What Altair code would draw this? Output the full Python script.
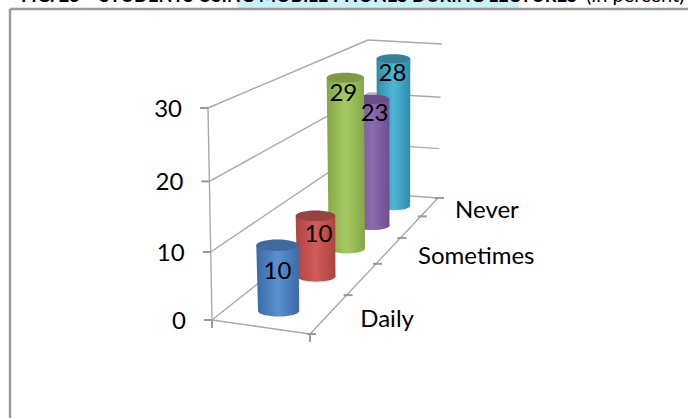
import altair as alt
import pandas as pd

# Chart content
title_bold = "FIG. 25 – STUDENTS USING MOBILE PHONES DURING LECTURES"
title_unit = "(in percent)"
values = [10, 10, 29, 23, 28]
depth_labels = ["Daily", "", "Sometimes", "", "Never"]
value_ticks = [0, 10, 20, 30]

# Per-cylinder palettes: edge shade, centre shade, cap
edge_colors = ["#3a6aa8", "#ad4340", "#84a648", "#6c508e", "#2f8ea9"]
mid_colors = ["#5c90d0", "#d25c5a", "#a6ca62", "#8d6cb2", "#4db6d6"]
cap_colors = ["#3f6a9e", "#964240", "#7e9a44", "#6b4f88", "#36809a"]
label_dx = [0, 3, -2, 3, -1]

W, H = 688, 418
FONT = "Lato"
AXIS_SIZE = 24
GRID = "#a9a9a9"
TICK = "#9a9a9a"

# Corners of the 3-D box on screen: floor and the plane at the top of the value axis
F_FL, F_FR, F_BL, F_BR = (212, 320), (310, 334), (372, 193), (438, 198)
T_FL, T_FR, T_BL, T_BR = (208, 108), (306, 122), (368, 40), (442, 44)
V_MAX = 30


def depth_warp(t, c=0.6):
    return t * (1 + c) / (1 + c * t)


def value_warp(v, k=0.00185):
    return (v / (1 - k * v)) * (1 - V_MAX * k) / V_MAX


def lerp(a, b, s):
    return a + (b - a) * s


def project(u, t, v):
    """Map (across, depth 0-1, value) to screen coordinates."""
    f, g = depth_warp(t), value_warp(v)
    out = []
    for i in (0, 1):
        floor = lerp(lerp(F_FL[i], F_FR[i], u), lerp(F_BL[i], F_BR[i], u), f)
        top = lerp(lerp(T_FL[i], T_FR[i], u), lerp(T_BL[i], T_BR[i], u), f)
        out.append(lerp(floor, top, g))
    return out


def segments(pairs):
    rows = []
    for (a, b) in pairs:
        rows.append({"x": a[0], "y": a[1], "x2": b[0], "y2": b[1]})
    return pd.DataFrame(rows)


x_scale = alt.Scale(domain=[0, W], range=[0, W], nice=False, zero=False)
y_scale = alt.Scale(domain=[0, H], range=[0, H], nice=False, zero=False)
X = alt.X("x:Q", scale=x_scale, axis=None)
Y = alt.Y("y:Q", scale=y_scale, axis=None)
XE = alt.X2("x2:Q")
YE = alt.Y2("y2:Q")


def rules(df, color, width):
    return alt.Chart(df).mark_rule(color=color, strokeWidth=width).encode(x=X, y=Y, x2=XE, y2=YE)


def texts(df, **kw):
    return alt.Chart(df).mark_text(font=FONT, color="black", **kw).encode(x=X, y=Y, text="t:N")


layers = []

# Title strip cut off by the frame, and the frame itself
layers.append(
    alt.Chart(pd.DataFrame([{"x": 237, "x2": 519, "y": 0, "y2": 8}]))
    .mark_rect(color="#c8f1fc")
    .encode(x=X, y=Y, x2=XE, y2=YE)
)
layers.append(
    texts(pd.DataFrame([{"x": 21, "y": 2, "t": title_bold}]),
          align="left", baseline="alphabetic", fontSize=18.3, fontWeight="bold")
)
layers.append(
    texts(pd.DataFrame([{"x": 586, "y": 1.5, "t": title_unit}]),
          align="left", baseline="alphabetic", fontSize=20)
)
layers.append(rules(segments([((10, 9), (W, 9)), ((10, 9), (10, H))]), "#9a9a9a", 2.4))

# Walls: value gridlines on the left and back planes
wall = []
for v in value_ticks:
    wall.append((project(0, 0, v), project(0, 1, v)))
    wall.append((project(0, 1, v), project(1, 1, v)))
wall.append((project(0, 0, 0), project(0, 0, V_MAX)))
wall.append((project(0, 0, 0), project(1, 0, 0)))
wall.append((project(1, 0, 0), project(1, 1, 0)))
layers.append(rules(segments(wall), GRID, 1.4))

# Tick marks on the value and depth axes
ticks = []
for v in value_ticks:
    p = project(0, 0, v)
    ticks.append(((p[0] - 8, p[1]), (p[0], p[1])))
for i in range(len(values) + 1):
    p = project(1, i / len(values), 0)
    ticks.append(((p[0] - 3, p[1]), (p[0] + 6, p[1])))
for u in (0, 1):
    p = project(u, 0, 0)
    ticks.append(((p[0], p[1]), (p[0], p[1] + 8)))
layers.append(rules(segments(ticks), TICK, 2))

# Cylinders, back to front
ELLIPSE = "M-1,0A1,0.27 0 1 0 1,0A1,0.27 0 1 0 -1,0Z"
labels = []
for i in reversed(range(len(values))):
    t = (i + 0.4) / len(values)
    f = depth_warp(t)
    r = 21.2 - 5.2 * f
    base = project(0.5, t, 0)
    top = project(0.5, t, values[i])
    shade = alt.Gradient(
        gradient="linear",
        x1=0, x2=1, y1=0, y2=0,
        stops=[
            alt.GradientStop(color=edge_colors[i], offset=0),
            alt.GradientStop(color=mid_colors[i], offset=0.5),
            alt.GradientStop(color=edge_colors[i], offset=1),
        ],
    )
    body = pd.DataFrame([
        {"x": top[0] - r * 1.03, "x2": top[0] + r * 1.03, "y": top[1]},
        {"x": base[0] - r, "x2": base[0] + r, "y": base[1]},
    ])
    layers.append(
        alt.Chart(pd.DataFrame([{"x": base[0], "y": base[1], "s": (2 * r) ** 2}]))
        .mark_point(shape=ELLIPSE, filled=True, fill=shade, opacity=1, strokeWidth=0)
        .encode(x=X, y=Y, size=alt.Size("s:Q", scale=None))
    )
    layers.append(
        alt.Chart(body).mark_area(orient="horizontal", fill=shade, opacity=1).encode(x=X, x2=XE, y=Y)
    )
    layers.append(
        alt.Chart(pd.DataFrame([{"x": top[0], "y": top[1], "s": (2 * r * 1.03) ** 2}]))
        .mark_point(shape=ELLIPSE, filled=True, fill=cap_colors[i], opacity=1, strokeWidth=0)
        .encode(x=X, y=Y, size=alt.Size("s:Q", scale=None))
    )
    labels.append({
        "x": top[0] + label_dx[i],
        "y": top[1] + 15 + 17 * (1 - f) ** 3,
        "t": str(values[i]),
    })
layers.append(texts(pd.DataFrame(labels), align="center", baseline="middle", fontSize=AXIS_SIZE))

# Axis labels
value_rows = []
for v in value_ticks:
    p = project(0, 0, v)
    value_rows.append({"x": p[0] - 26, "y": p[1] + 2, "t": str(v)})
layers.append(texts(pd.DataFrame(value_rows), align="right", baseline="middle", fontSize=AXIS_SIZE))

depth_rows = []
for i, name in enumerate(depth_labels):
    if name:
        t = (i + 0.5) / len(depth_labels)
        p = project(1, t, 0)
        depth_rows.append({"x": p[0] + 31 - 7 * t ** 2, "y": p[1] + 7 - 5 * t ** 5, "t": name})
layers.append(texts(pd.DataFrame(depth_rows), align="left", baseline="middle", fontSize=AXIS_SIZE))

chart = (
    alt.layer(*layers)
    .properties(width=W, height=H, padding=0, autosize=alt.AutoSizeParams(type="none"), background="white")
    .configure_view(stroke=None)
)
chart.save("out.html", embed_options={"renderer": "svg", "actions": False})
